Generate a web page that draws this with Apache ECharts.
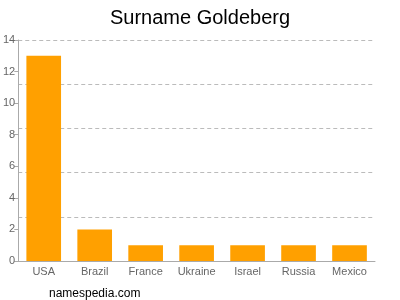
<!DOCTYPE html>
<html><head><meta charset="utf-8">
<script src="https://cdn.jsdelivr.net/npm/echarts@6/dist/echarts.min.js"></script>
<style>html,body{margin:0;padding:0;background:#fff}#c{width:400px;height:300px}</style>
</head><body><div id="c"></div>
<script>
const categories = ["USA","Brazil","France","Ukraine","Israel","Russia","Mexico"];
const values = [13,2,1,1,1,1,1];
const yTicks = [0,2,4,6,8,10,12,14];
const chart = echarts.init(document.getElementById('c'));
chart.setOption({
  animation:false,
  title:[{text:'Surname Goldeberg',left:'center',top:3,textStyle:{fontFamily:'Liberation Sans, Arial',fontSize:20,fontWeight:'normal',color:'#000'}},
         {text:'namespedia.com',left:44,top:283,textStyle:{fontFamily:'Liberation Sans, Arial',fontSize:12,fontWeight:'normal',color:'#000'}}],
  grid:{left:17,right:25,top:40,bottom:39},
  xAxis:{type:'category',data:categories,
    axisLine:{lineStyle:{color:'#aaa'}},
    axisTick:{alignWithLabel:true,length:4,lineStyle:{color:'#aaa'}},
    axisLabel:{color:'#666',fontSize:11,fontFamily:'Liberation Sans, Arial',margin:5}},
  yAxis:[{type:'value',min:0,max:14,interval:2,
    axisLine:{show:true,lineStyle:{color:'#aaa'}},
    axisTick:{show:true,length:4,lineStyle:{color:'#aaa'}},
    splitLine:{show:false},
    axisLabel:{color:'#666',fontSize:11,fontFamily:'Liberation Sans, Arial',margin:3,
      formatter:v=>yTicks.includes(v)?String(v):''}},
    {type:'value',min:0,max:14,interval:2.8,position:'left',
    axisLine:{show:false},axisTick:{show:false},axisLabel:{show:false},
    splitLine:{show:true,lineStyle:{color:'#bbb',type:[4,3]}}}],
  series:[{type:'bar',data:values,barWidth:'68%',itemStyle:{color:'#FFA000'}}]
});
</script></body></html>
